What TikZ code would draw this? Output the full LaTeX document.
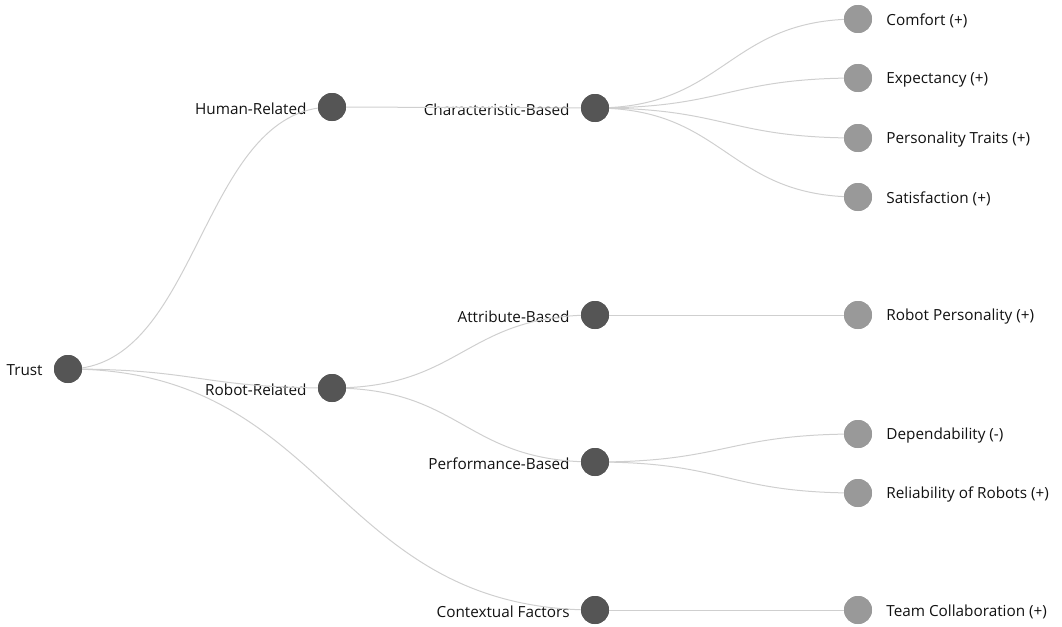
\documentclass[tikz,border=0pt]{standalone}
\usepackage{fontspec}
\setmainfont{Open Sans}
\usetikzlibrary{calc}
\definecolor{inner}{HTML}{555555}
\definecolor{leafc}{HTML}{999999}
\definecolor{linkc}{HTML}{CFCFCF}
\definecolor{txt}{HTML}{111111}
\tikzset{
  dot/.style={circle,minimum size=28pt,inner sep=0pt,draw=none},
  inn/.style={dot,fill=inner,label={[lab,anchor=east,xshift=-11pt]west:#1}},
  lf/.style={dot,fill=leafc,label={[lab,anchor=west,xshift=14pt]east:#1}},
  lab/.style={inner sep=0pt,yshift=-1.5pt,text=txt,font=\fontsize{15.3pt}{17pt}\selectfont},
  link/.style={draw=linkc,line width=1pt}
}
\newcommand{\lnk}[2]{\draw[link] let \p1=(#1.center), \p2=(#2.center) in (\p1) .. controls ({(\x1+\x2)/2},\y1) and ({(\x1+\x2)/2},\y2) .. (\p2);}
\begin{document}
\begin{tikzpicture}[x=1pt,y=-1pt]
\useasboundingbox (0,0) rectangle (1062,626);
% nodes
\node[inn=Trust] (T) at (68,369) {};
\node[inn=Human-Related] (H) at (332,107) {};
\node[inn=Robot-Related] (R) at (332,388) {};
\node[inn=Contextual Factors] (C) at (595,610) {};
\node[inn=Characteristic-Based] (CB) at (595,108) {};
\node[inn=Attribute-Based] (AB) at (595,315) {};
\node[inn=Performance-Based] (PB) at (595,462) {};
\node[lf={Comfort (+)}] (L1) at (858,19) {};
\node[lf={Expectancy (+)}] (L2) at (858,78) {};
\node[lf={Personality Traits (+)}] (L3) at (858,138) {};
\node[lf={Satisfaction (+)}] (L4) at (858,197) {};
\node[lf={Robot Personality (+)}] (L5) at (858,315) {};
\node[lf={Dependability (-)}] (L6) at (858,434) {};
\node[lf={Reliability of Robots (+)}] (L7) at (858,493) {};
\node[lf={Team Collaboration (+)}] (L8) at (858,610) {};
% links
\lnk{T}{H}\lnk{T}{R}\lnk{T}{C}
\lnk{H}{CB}\lnk{R}{AB}\lnk{R}{PB}
\lnk{CB}{L1}\lnk{CB}{L2}\lnk{CB}{L3}\lnk{CB}{L4}
\lnk{AB}{L5}\lnk{PB}{L6}\lnk{PB}{L7}\lnk{C}{L8}
% dots on top of links
\foreach \n in {T,H,R,C,CB,AB,PB}{\fill[inner] (\n.center) circle (14pt);}
\foreach \n in {L1,L2,L3,L4,L5,L6,L7,L8}{\fill[leafc] (\n.center) circle (14pt);}
\end{tikzpicture}
\end{document}
